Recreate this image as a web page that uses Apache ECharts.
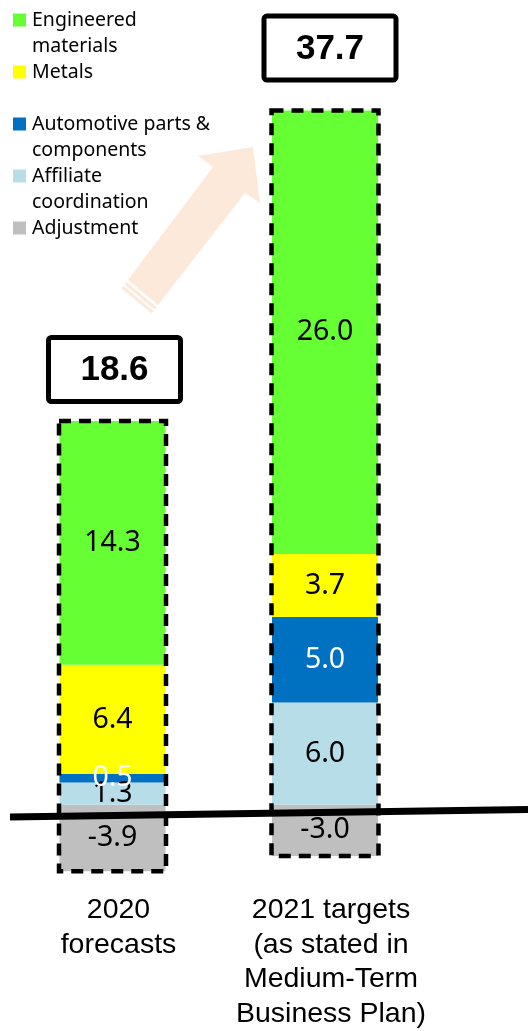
<!DOCTYPE html>
<html><head><meta charset="utf-8">
<script src="https://cdn.jsdelivr.net/npm/echarts@6/dist/echarts.min.js"></script>
<style>html,body{margin:0;padding:0;background:#fff}#c{width:528px;height:1031px}</style>
</head><body><div id="c"></div>
<script>
// ---- data ----
const categories = ['2020\nforecasts', '2021 targets\n(as stated in\nMedium-Term\nBusiness Plan)'];
const seriesNames = ['Engineered materials', 'Metals', 'Automotive parts & components', 'Affiliate coordination', 'Adjustment'];
const engineered = [14.3, 26.0];
const metals = [6.4, 3.7];
const automotive = [0.5, 5.0];
const affiliate = [1.3, 6.0];
const adjustment = [-3.9, -3.0];
const totals = [18.6, 37.7];

// ---- style ----
const colors = {
  'Engineered materials': '#66FF33',
  'Metals': '#FFFF00',
  'Automotive parts & components': '#0070C0',
  'Affiliate coordination': '#B7DEE8',
  'Adjustment': '#BFBFBF'
};
const labelColors = {
  'Engineered materials': '#000',
  'Metals': '#000',
  'Automotive parts & components': '#fff',
  'Affiliate coordination': '#000',
  'Adjustment': '#000'
};
const legendText = {
  'Engineered materials': 'Engineered\nmaterials',
  'Metals': 'Metals',
  'Automotive parts & components': 'Automotive parts &\ncomponents',
  'Affiliate coordination': 'Affiliate\ncoordination',
  'Adjustment': 'Adjustment'
};
const legendBlankAfter = {'Metals': 1};
const BAR_W = 106;
const boxDx = [2, 5];
const boxGap = [17, 28];

const valuesByName = {
  'Engineered materials': engineered,
  'Metals': metals,
  'Automotive parts & components': automotive,
  'Affiliate coordination': affiliate,
  'Adjustment': adjustment
};
// stacking order bottom -> top
const stackOrder = ['Adjustment', 'Affiliate coordination', 'Automotive parts & components', 'Metals', 'Engineered materials'];

const posSum = categories.map((c, i) => stackOrder.reduce((s, n) => s + Math.max(0, valuesByName[n][i]), 0));
const negSum = categories.map((c, i) => stackOrder.reduce((s, n) => s + Math.min(0, valuesByName[n][i]), 0));

const chart = echarts.init(document.getElementById('c'), null, {renderer: 'canvas'});

const barSeries = stackOrder.map(name => ({
  name: name,
  type: 'bar',
  stack: 'total',
  barWidth: BAR_W,
  data: valuesByName[name],
  itemStyle: {color: colors[name]},
  label: {
    show: true,
    position: 'inside',
    formatter: p => p.value.toFixed(1),
    color: labelColors[name],
    fontFamily: '"Noto Sans", sans-serif',
    fontSize: 28.5,
    textBorderWidth: 0
  },
  z: 2
}));

const borderSeries = {
  type: 'custom',
  data: categories.map((c, i) => [i, negSum[i], posSum[i]]),
  encode: {x: 0, y: [1, 2]},
  z: 5,
  silent: true,
  renderItem: (params, api) => {
    const top = api.coord([api.value(0), api.value(2)]);
    const bot = api.coord([api.value(0), api.value(1)]);
    return {
      type: 'rect',
      shape: {x: top[0] - BAR_W / 2 - 0.5, y: top[1], width: BAR_W + 1, height: bot[1] - top[1]},
      style: {fill: 'none', stroke: '#000', lineWidth: 4.5, lineDash: [12, 8]}
    };
  }
};

const totalSeries = {
  type: 'custom',
  data: categories.map((c, i) => [i, posSum[i], totals[i]]),
  encode: {x: 0, y: 1},
  z: 6,
  silent: true,
  renderItem: (params, api) => {
    const i = params.dataIndex;
    const p = api.coord([api.value(0), api.value(1)]);
    const cx = p[0] + boxDx[i];
    const bottom = p[1] - boxGap[i];
    const w = 132, h = 64;
    return {
      type: 'group',
      children: [
        {type: 'rect', shape: {x: cx - w / 2, y: bottom - 2.5 - h, width: w, height: h, r: 3},
          style: {fill: '#fff', stroke: '#000', lineWidth: 5}},
        {type: 'text', style: {text: api.value(2).toFixed(1), x: cx, y: bottom - 2.5 - h / 2 + 1,
          align: 'center', verticalAlign: 'middle', fill: '#000',
          fontFamily: '"Liberation Sans", Arial, sans-serif', fontWeight: 'bold', fontSize: 35}}
      ]
    };
  }
};

// legend (drawn as text + swatches)
const legendEls = [];
let line = 0;
const LX = 13, LY = 20, LH = 26;
seriesNames.forEach(name => {
  const y = LY + line * LH;
  const nl = legendText[name].split('\n').length;
  legendEls.push({type: 'rect', shape: {x: LX, y: y - 6.5, width: 13, height: 13}, style: {fill: colors[name]}, z: 20});
  legendEls.push({type: 'text', x: 32, y: y + (nl - 1) * LH / 2, style: {text: legendText[name], fill: '#000',
    fontFamily: '"Noto Sans", sans-serif', fontSize: 19.5, lineHeight: LH, verticalAlign: 'middle',
    align: 'left'}, z: 20});
  line += nl + (legendBlankAfter[name] || 0);
});

// arrow (decoration)
const arrowColor = '#FCE9DA';
const tailL = [128, 280], tailR = [158, 305];
const u = [0.603, -0.798];
function back(p, d) { return [p[0] - u[0] * d, p[1] - u[1] * d]; }
const arrowEls = [
  {type: 'polygon', shape: {points: [tailL, [213, 167], [198, 156], [253, 147], [260, 203], [245, 193], tailR]},
    style: {fill: arrowColor}, z: 0},
  {type: 'polygon', shape: {points: [back(tailL, 2.5), back(tailR, 2.5), back(tailR, 5.5), back(tailL, 5.5)]},
    style: {fill: arrowColor}, z: 0},
  {type: 'polygon', shape: {points: [back(tailL, 7.5), back(tailR, 7.5), back(tailR, 10.5), back(tailL, 10.5)]},
    style: {fill: arrowColor}, z: 0}
];

const option = {
  animation: false,
  backgroundColor: '#fff',
  grid: {left: 6.25, right: 96.75, top: 37.25, height: 857.5, containLabel: false},
  xAxis: {
    type: 'category',
    data: categories,
    axisLine: {show: false},
    axisTick: {show: false},
    axisLabel: {
      margin: 3,
      color: '#000',
      fontFamily: '"Liberation Sans", Arial, sans-serif',
      fontSize: 28.5,
      lineHeight: 34.5,
      padding: [0, 0, 0, 12],
      interval: 0
    }
  },
  yAxis: {type: 'value', min: -5, max: 45, show: false, splitLine: {show: false}},
  series: [...barSeries, borderSeries, totalSeries],
  graphic: [
    ...arrowEls,
    ...legendEls,
    {type: 'line', shape: {x1: 10, y1: 817, x2: 528, y2: 809.5}, style: {stroke: '#000', lineWidth: 7}, z: 50}
  ]
};
chart.setOption(option);
</script>
</body></html>
